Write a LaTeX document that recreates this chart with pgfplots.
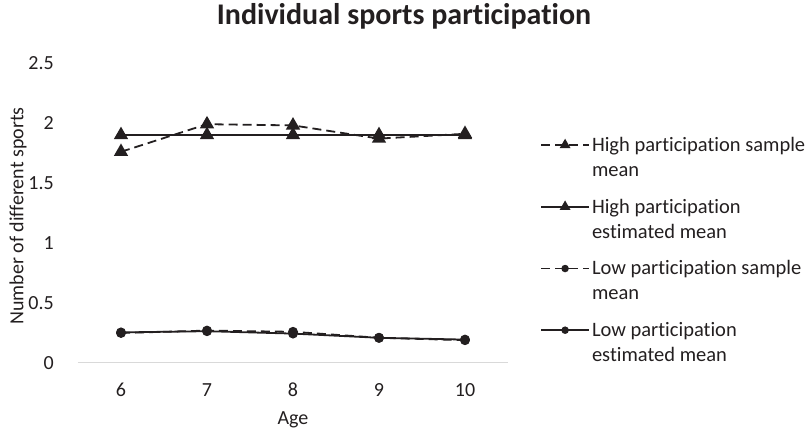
\documentclass[border=0pt]{standalone}
\usepackage{pgfplots}
\pgfplotsset{compat=1.18}
\usepackage{fontspec}
\setmainfont[Ligatures={NoCommon}]{Carlito}
\definecolor{axgray}{HTML}{D9D9D9}
\definecolor{ink}{HTML}{231F20}
\begin{document}
\begin{tikzpicture}[x=1pt,y=1pt]
\path[use as bounding box] (0,0) rectangle (810,433);
\node[font=\fontsize{30}{34}\selectfont\bfseries, text=ink] at (404,417) {Individual sports participation};
\begin{axis}[
  at={(78pt,70pt)}, anchor=origin,
  scale only axis, width=430pt, height=300pt,
  xmin=5.5, xmax=10.5, ymin=0, ymax=2.5,
  xtick={6,7,8,9,10}, ytick={0,0.5,1,1.5,2,2.5},
  yticklabels={0,0.5,1,1.5,2,2.5},
  axis x line*=bottom, axis y line*=left,
  x axis line style={axgray, line width=1pt, -},
  y axis line style={draw=none},
  tick style={draw=none},
  major tick length=0pt,
  ticklabel style={font=\fontsize{20}{24}\selectfont, text=ink},
  xticklabel style={anchor=center, yshift=-27pt},
  yticklabel style={anchor=east, inner sep=0pt, xshift=-24pt},
  /pgf/number format/assume math mode=true,
  xlabel={Age},
  xlabel style={at={(axis description cs:0.5,0)}, anchor=center, yshift=-57pt, font=\fontsize{20}{24}\selectfont, text=ink},
  ylabel={Number of different sports},
  ylabel style={at={(axis description cs:-0.1395,0.49)}, anchor=center, font=\fontsize{20}{24}\selectfont, text=ink},
  clip=false,
  legend style={at={(axis description cs:1,1)}, anchor=north west, xshift=32pt, yshift=-72pt,
    draw=none, fill=none, font=\fontsize{20.5}{25}\selectfont, text=ink,
    row sep=17pt, inner sep=0pt,
    cells={align=left, anchor=west}},
  legend image code/.code={
    \path[draw=none, fill=none] (0pt,-12.5pt) -- (0pt,12.5pt);
    \draw[#1, /tikz/every mark/.append style={scale=0.7}, mark repeat=2, mark phase=2]
      plot coordinates {(0pt,12.5pt) (24pt,12.5pt) (48pt,12.5pt)};
  },
]
\addplot[ink, line width=1.8pt, dash pattern=on 9pt off 5pt, mark=triangle*, mark size=6.5pt, mark options={solid}]
  coordinates {(6,1.76) (7,1.99) (8,1.98) (9,1.87) (10,1.91)};
\addlegendentry{High participation sample\\mean}
\addplot[ink, line width=1.8pt, mark=triangle*, mark size=6.5pt]
  coordinates {(6,1.90) (7,1.90) (8,1.90) (9,1.90) (10,1.90)};
\addlegendentry{High participation\\estimated mean}
\addplot[ink, line width=1.8pt, dash pattern=on 9pt off 5pt, mark=*, mark size=4pt, mark options={solid}]
  coordinates {(6,0.25) (7,0.27) (8,0.26) (9,0.21) (10,0.19)};
\addlegendentry{Low participation sample\\mean}
\addplot[ink, line width=1.8pt, mark=*, mark size=4pt]
  coordinates {(6,0.255) (7,0.265) (8,0.245) (9,0.21) (10,0.195)};
\addlegendentry{Low participation\\estimated mean}
\end{axis}
\end{tikzpicture}
\end{document}
